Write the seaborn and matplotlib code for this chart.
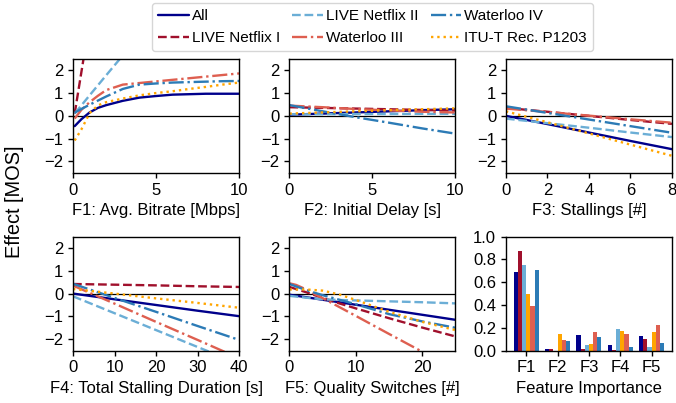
import numpy as np
import pandas as pd
import matplotlib
matplotlib.use("Agg")
import matplotlib.pyplot as plt
import seaborn as sns

# ---------------- data ----------------
datasets = ["All", "LIVE Netflix I", "LIVE Netflix II", "Waterloo III",
            "Waterloo IV", "ITU-T Rec. P1203"]
bar_order = ["All", "LIVE Netflix I", "LIVE Netflix II", "ITU-T Rec. P1203",
             "Waterloo III", "Waterloo IV"]

# F1: Avg. Bitrate [Mbps]
f1_x = [0.1, 0.5, 1, 1.5, 2, 3, 4, 5, 6, 7, 8, 9, 10]
f1_all = [-0.45, -0.15, 0.15, 0.35, 0.47, 0.66, 0.80, 0.87, 0.93, 0.95, 0.97, 0.97, 0.97]
f1_lnf1_x = [0.1, 0.4, 0.7]
f1_lnf1 = [0.10, 1.45, 2.80]
f1_lnf2_x = [0.1, 1, 2, 3]
f1_lnf2 = [0.10, 0.90, 1.78, 2.65]
f1_w3 = [-0.12, 0.26, 0.60, 0.88, 1.13, 1.37, 1.44, 1.51, 1.58, 1.65, 1.72, 1.79, 1.86]
f1_w4 = [0.14, 0.30, 0.49, 0.67, 0.85, 1.18, 1.37, 1.42, 1.46, 1.48, 1.50, 1.52, 1.53]
f1_p1203 = [-1.08, -0.60, 0.12, 0.46, 0.60, 0.76, 0.90, 1.00, 1.08, 1.18, 1.27, 1.37, 1.46]

# F2: Initial Delay [s]
f2_x = [0, 2, 4, 6, 8, 10]
f2_all = [0.05, 0.10, 0.15, 0.20, 0.25, 0.29]
f2_lnf1 = [0.38, 0.35, 0.32, 0.29, 0.26, 0.23]
f2_lnf2 = [0.07, 0.07, 0.08, 0.08, 0.09, 0.09]
f2_w3 = [0.45, 0.38, 0.30, 0.24, 0.18, 0.15]
f2_w4 = [0.47, 0.20, -0.06, -0.30, -0.55, -0.78]
f2_p1203 = [0.10, 0.15, 0.20, 0.25, 0.29, 0.33]

# F3: Stallings [#]
f3_x = [0, 2, 4, 6, 8]
f3_all = [0.0, -0.36, -0.73, -1.10, -1.46]
f3_lnf1 = [0.35, 0.18, 0.0, -0.18, -0.35]
f3_lnf2 = [-0.12, -0.32, -0.52, -0.73, -0.93]
f3_w3 = [0.32, 0.17, 0.01, -0.15, -0.30]
f3_w4 = [0.42, 0.13, -0.16, -0.45, -0.74]
f3_p1203 = [0.20, -0.28, -0.77, -1.26, -1.75]

# F4: Total Stalling Duration [s]
f4_x = [0, 10, 20, 30, 40]
f4_all = [0.0, -0.25, -0.50, -0.75, -0.99]
f4_lnf1 = [0.42, 0.39, 0.36, 0.32, 0.29]
f4_lnf2 = [-0.12, -0.86, -1.60, -2.34, -3.08]
f4_w3 = [0.35, -0.44, -1.24, -2.03, -2.83]
f4_w4 = [0.43, -0.19, -0.80, -1.42, -2.03]
f4_p1203 = [0.20, 0.0, -0.21, -0.41, -0.62]

# F5: Quality Switches [#]
f5_x = [0, 2.5, 5, 7.5, 10, 15, 20, 25]
f5_all = [-0.05, -0.16, -0.27, -0.38, -0.49, -0.71, -0.93, -1.15]
f5_lnf1 = [0.29, 0.06, -0.19, -0.43, -0.65, -1.08, -1.49, -1.88]
f5_lnf2 = [-0.10, -0.18, -0.25, -0.28, -0.30, -0.34, -0.38, -0.43]
f5_w3_x = [0, 1, 2, 3, 4, 5, 7.5, 10, 15, 20, 25]
f5_w3 = [0.45, 0.38, 0.25, 0.10, -0.05, -0.20, -0.59, -0.98, -1.77, -2.55, -3.34]
f5_w4 = [0.42, 0.15, -0.07, -0.27, -0.47, -0.90, -1.22, -1.50]
f5_p1203 = [0.18, 0.18, 0.13, -0.04, -0.28, -0.80, -1.24, -1.60]

# Feature importance (bars)
features = ["F1", "F2", "F3", "F4", "F5"]
imp_all = [0.69, 0.015, 0.14, 0.045, 0.13]
imp_lnf1 = [0.87, 0.015, 0.015, 0.005, 0.105]
imp_lnf2 = [0.75, 0.0, 0.045, 0.19, 0.035]
imp_p1203 = [0.50, 0.15, 0.06, 0.17, 0.16]
imp_w3 = [0.39, 0.09, 0.16, 0.15, 0.225]
imp_w4 = [0.71, 0.08, 0.12, 0.035, 0.07]

titles = ["F1: Avg. Bitrate [Mbps]", "F2: Initial Delay [s]", "F3: Stallings [#]",
          "F4: Total Stalling Duration [s]", "F5: Quality Switches [#]"]

# ---------------- long-form tables ----------------
rows = []
def add(feat, name, xs, ys):
    for xv, yv in zip(xs, ys):
        rows.append({"feature": feat, "dataset": name, "x": xv, "effect": yv})

add("F1", "All", f1_x, f1_all)
add("F1", "LIVE Netflix I", f1_lnf1_x, f1_lnf1)
add("F1", "LIVE Netflix II", f1_lnf2_x, f1_lnf2)
add("F1", "Waterloo III", f1_x, f1_w3)
add("F1", "Waterloo IV", f1_x, f1_w4)
add("F1", "ITU-T Rec. P1203", f1_x, f1_p1203)
for feat, xs, a, l1, l2, w3, w4, p in [
        ("F2", f2_x, f2_all, f2_lnf1, f2_lnf2, f2_w3, f2_w4, f2_p1203),
        ("F3", f3_x, f3_all, f3_lnf1, f3_lnf2, f3_w3, f3_w4, f3_p1203),
        ("F4", f4_x, f4_all, f4_lnf1, f4_lnf2, f4_w3, f4_w4, f4_p1203)]:
    add(feat, "All", xs, a)
    add(feat, "LIVE Netflix I", xs, l1)
    add(feat, "LIVE Netflix II", xs, l2)
    add(feat, "Waterloo III", xs, w3)
    add(feat, "Waterloo IV", xs, w4)
    add(feat, "ITU-T Rec. P1203", xs, p)
add("F5", "All", f5_x, f5_all)
add("F5", "LIVE Netflix I", f5_x, f5_lnf1)
add("F5", "LIVE Netflix II", f5_x, f5_lnf2)
add("F5", "Waterloo III", f5_w3_x, f5_w3)
add("F5", "Waterloo IV", f5_x, f5_w4)
add("F5", "ITU-T Rec. P1203", f5_x, f5_p1203)
line_df = pd.DataFrame(rows)

bar_rows = []
for name, vals in zip(bar_order, [imp_all, imp_lnf1, imp_lnf2, imp_p1203, imp_w3, imp_w4]):
    for f, v in zip(features, vals):
        bar_rows.append({"feature": f, "dataset": name, "importance": v})
bar_df = pd.DataFrame(bar_rows)

# ---------------- style ----------------
sns.set_style("ticks")
plt.rcParams["font.family"] = ["Liberation Sans", "DejaVu Sans"]
plt.rcParams.update({
    "font.size": 12, "axes.labelsize": 12, "xtick.labelsize": 12,
    "ytick.labelsize": 12, "axes.edgecolor": "black", "axes.linewidth": 1.0,
    "xtick.color": "black", "ytick.color": "black", "text.color": "black",
    "axes.labelcolor": "black", "xtick.major.size": 3.5, "ytick.major.size": 3.5,
    "xtick.major.width": 1.0, "ytick.major.width": 1.0,
})

palette = {"All": "#00008b", "LIVE Netflix I": "#a0102c", "LIVE Netflix II": "#6baed6",
           "Waterloo III": "#de5f50", "Waterloo IV": "#2c7bb6", "ITU-T Rec. P1203": "#ffa500"}
dashes = {"All": "", "LIVE Netflix I": (3.7, 1.6), "LIVE Netflix II": (3.7, 1.6),
          "Waterloo III": (6.4, 1.6, 1, 1.6), "Waterloo IV": (6.4, 1.6, 1, 1.6),
          "ITU-T Rec. P1203": (1, 1.65)}

fig, axes = plt.subplots(2, 3, figsize=(6.76, 4.03), dpi=100)
fig.subplots_adjust(left=0.108, right=0.994, top=0.854, bottom=0.130,
                    wspace=0.304, hspace=0.558)

xlims = [(0, 10), (0, 10), (0, 8), (0, 40), (0, 25)]
xticks = [[0, 5, 10], [0, 5, 10], [0, 2, 4, 6, 8], [0, 10, 20, 30, 40], [0, 10, 20]]

handles, labels = None, None
for i, feat in enumerate(features):
    ax = axes.flat[i]
    sub = line_df[line_df["feature"] == feat]
    ax.axhline(0, color="black", lw=0.9, zorder=1)
    sns.lineplot(data=sub, x="x", y="effect", hue="dataset", style="dataset",
                 hue_order=datasets, style_order=datasets, palette=palette,
                 dashes=dashes, estimator=None, sort=True, lw=1.7, ax=ax,
                 legend=(i == 0))
    if i == 0:
        handles, labels = ax.get_legend_handles_labels()
        ax.get_legend().remove()
    ax.set_xlim(*xlims[i])
    ax.set_xticks(xticks[i])
    ax.set_ylim(-2.5, 2.5)
    ax.set_yticks([-2, -1, 0, 1, 2])
    ax.set_xlabel(titles[i])
    ax.set_ylabel("")
    for s in ax.spines.values():
        s.set_visible(True)

axb = axes.flat[5]
sns.barplot(data=bar_df, x="feature", y="importance", hue="dataset",
            hue_order=bar_order, palette=palette, width=0.8, linewidth=0,
            saturation=1, ax=axb, legend=False)
axb.set_xlim(-0.65, 4.65)
axb.set_ylim(0, 1.0)
axb.set_yticks([0, 0.2, 0.4, 0.6, 0.8, 1.0])
axb.set_yticklabels(["0.0", "0.2", "0.4", "0.6", "0.8", "1.0"])
axb.set_xlabel("Feature Importance")
axb.set_ylabel("")
for s in axb.spines.values():
    s.set_visible(True)

axes.flat[1].legend(handles, labels, loc="lower center", bbox_to_anchor=(0.5, 1.0),
                    ncol=3, fontsize=11, handlelength=2.0, handletextpad=0.2,
                    columnspacing=0.8, frameon=True, borderaxespad=0.5)

fig.supylabel("Effect [MOS]", x=0.008, fontsize=14.4)

fig.savefig("out.png", dpi=100)
